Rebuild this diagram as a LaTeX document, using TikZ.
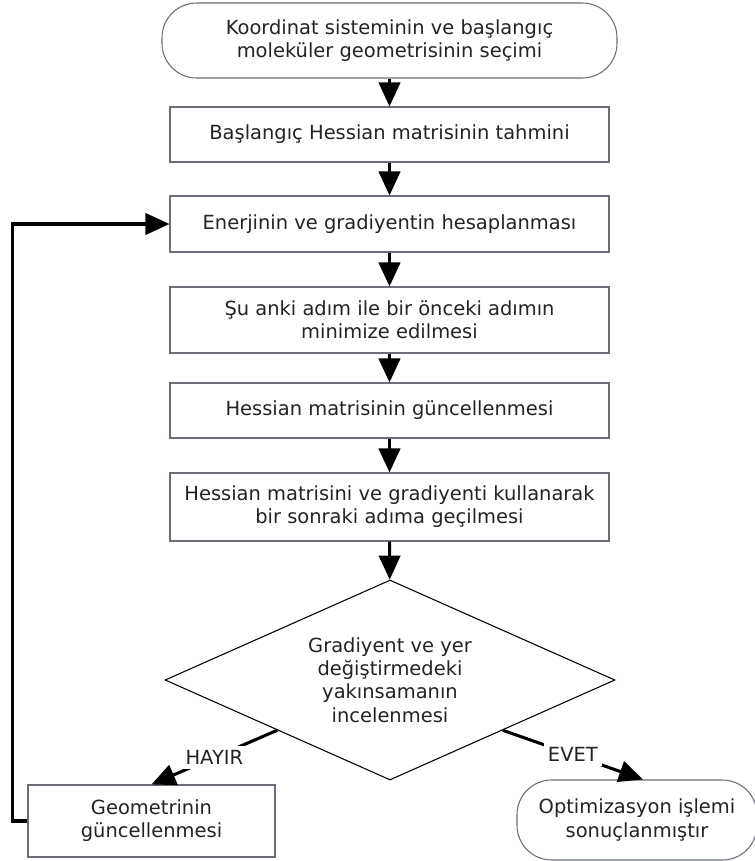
\documentclass[tikz,border=0pt]{standalone}
\usepackage{fontspec}
\setmainfont{DejaVu Sans}
\usetikzlibrary{shapes.geometric, arrows.meta, calc}

\definecolor{edgegray}{RGB}{105,110,120}
\definecolor{textgray}{RGB}{35,35,35}

\tikzset{
  process/.style={draw=edgegray, line width=0.8pt, rectangle, align=center,
    inner sep=0pt, minimum width=439*0.75pt, text=textgray},
  terminal/.style={draw=edgegray, line width=0.8pt, rectangle, rounded corners=26pt,
    align=center, inner sep=0pt, text=textgray},
  decision/.style={draw=black, line width=0.8pt, diamond, shape aspect=2.25, align=center,
    inner sep=0pt, minimum width=450*0.75pt, minimum height=200*0.75pt, text=textgray},
  flow/.style={line width=2.3pt, -{Triangle[length=18pt, width=16pt]}},
}

\begin{document}
\begin{tikzpicture}[x=0.75pt, y=-0.75pt, font=\fontsize{14.6}{17.4}\selectfont]
\useasboundingbox (0,0) rectangle (755,861);

\node[terminal, minimum width=455*0.75pt, minimum height=75*0.75pt] (start) at (389.5,40.5)
  {Koordinat sisteminin ve başlangıç\\moleküler geometrisinin seçimi};
\node[process, minimum height=55*0.75pt] (guess) at (389.5,134.5)
  {Başlangıç Hessian matrisinin tahmini};
\node[process, minimum height=56*0.75pt] (energy) at (389.5,224)
  {Enerjinin ve gradiyentin hesaplanması};
\node[process, minimum height=66*0.75pt] (minim) at (389.5,320)
  {Şu anki adım ile bir önceki adımın\\minimize edilmesi};
\node[process, minimum height=55*0.75pt] (update) at (389.5,410.5)
  {Hessian matrisinin güncellenmesi};
\node[process, minimum height=68*0.75pt] (nextstep) at (389.5,507)
  {Hessian matrisini ve gradiyenti kullanarak\\bir sonraki adıma geçilmesi};
\node[decision] (check) at (390,680)
  {Gradiyent ve yer\\değiştirmedeki\\yakınsamanın\\incelenmesi};
\node[process, minimum width=247*0.75pt, minimum height=72*0.75pt] (geom) at (151.5,821)
  {Geometrinin\\güncellenmesi};
\node[terminal, minimum width=240*0.75pt, minimum height=80*0.75pt] (done) at (637,820)
  {Optimizasyon işlemi\\sonuçlanmıştır};

\draw[flow] (start) -- (guess);
\draw[flow] (guess) -- (energy);
\draw[flow] (energy) -- (minim);
\draw[flow] (minim) -- (update);
\draw[flow] (update) -- (nextstep);
\draw[flow] (nextstep) -- (check);

\coordinate (noout) at ($(check.west)!0.5!(check.south)$);
\coordinate (yesout) at ($(check.east)!0.5!(check.south)$);
\draw[flow] (noout) -- node[fill=white, text=textgray] {HAYIR} (geom.north);
\draw[flow] (yesout) -- node[fill=white, text=textgray] {EVET} ($(done.north)+(6,0)$);

% geri donus
\draw[flow] (geom.west) -- ++(-15,0) |- (energy.west);
\end{tikzpicture}
\end{document}
